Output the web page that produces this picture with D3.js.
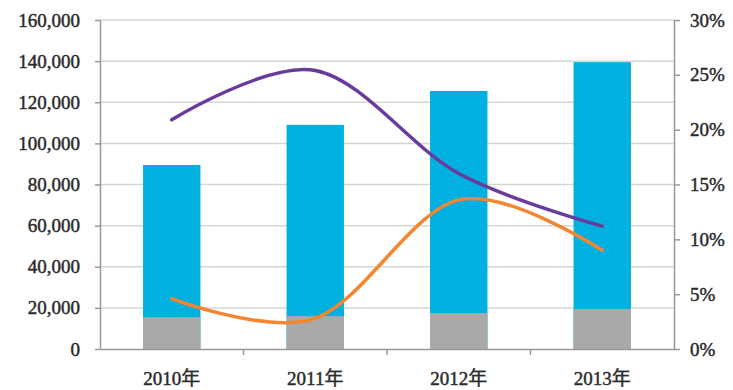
<!DOCTYPE html>
<html>
<head>
<meta charset="utf-8">
<script src="https://cdn.jsdelivr.net/npm/d3@7"></script>
<style>
  html, body { margin: 0; padding: 0; background: #fff; }
  .axis text { font-family: "Liberation Serif", "Times New Roman", "Noto Sans CJK SC", serif; font-size: 19px; fill: #2a2a2a; stroke: #2a2a2a; stroke-width: 0.45px; }
  .axis path, .axis line { stroke: #999; stroke-width: 1.5; }
</style>
</head>
<body>
<div id="chart"></div>
<script>
const categories = ['2010年', '2011年', '2012年', '2013年'];
const totalValues = [89500, 109000, 125500, 139500];
const greyValues = [15500, 16000, 17500, 19500];
const purpleRates = [20.9, 25.4, 16.0, 11.2];
const orangeRates = [4.6, 2.8, 13.6, 9.0];
const leftTicks = [0, 20000, 40000, 60000, 80000, 100000, 120000, 140000, 160000];
const rightTicks = [0, 5, 10, 15, 20, 25, 30];

const W = 733, H = 390;
const m = { top: 20, right: 59, bottom: 41, left: 100 };
const iw = W - m.left - m.right;
const ih = H - m.top - m.bottom;

const svg = d3.select('#chart').append('svg').attr('width', W).attr('height', H);
const g = svg.append('g').attr('transform', `translate(${m.left},${m.top})`);

const x = d3.scaleBand().domain(categories).range([0, iw]).padding(0);
const yL = d3.scaleLinear().domain([0, 160000]).range([ih, 0]);
const yR = d3.scaleLinear().domain([0, 30]).range([ih, 0]);
const barW = x.bandwidth() * 0.4;

// grid
g.append('g').selectAll('line')
  .data(leftTicks.filter(d => d > 0))
  .join('line')
  .attr('x1', 0).attr('x2', iw)
  .attr('y1', d => yL(d)).attr('y2', d => yL(d))
  .attr('stroke', '#d6d6d6').attr('stroke-width', 1.5);

// bars
const bars = g.append('g').selectAll('g').data(categories).join('g')
  .attr('transform', d => `translate(${x(d) + (x.bandwidth() - barW) / 2},0)`);
bars.append('rect')
  .attr('width', barW)
  .attr('y', (d, i) => yL(totalValues[i]))
  .attr('height', (d, i) => yL(0) - yL(totalValues[i]))
  .attr('fill', '#00b0e0');
bars.append('rect')
  .attr('width', barW)
  .attr('y', (d, i) => yL(greyValues[i]))
  .attr('height', (d, i) => yL(0) - yL(greyValues[i]))
  .attr('fill', '#a9a9a9');

// axes
g.append('g').attr('class', 'axis')
  .call(d3.axisLeft(yL).tickValues(leftTicks).tickFormat(d3.format(',')).tickSize(5).tickPadding(15).tickSizeOuter(0));
g.append('g').attr('class', 'axis')
  .attr('transform', `translate(${iw},0)`)
  .call(d3.axisRight(yR).tickValues(rightTicks).tickFormat(d => d + '%').tickSize(6).tickPadding(10).tickSizeOuter(0));

const xAxis = g.append('g').attr('class', 'axis')
  .attr('transform', `translate(0,${ih})`)
  .call(d3.axisBottom(x).tickSize(0).tickPadding(25).tickSizeOuter(0));
xAxis.selectAll('.tick text').attr('dy', '0.6em');
xAxis.append('g').selectAll('line')
  .data(categories.slice(1))
  .join('line')
  .attr('x1', d => x(d)).attr('x2', d => x(d))
  .attr('y1', 0).attr('y2', 6)
  .attr('stroke', '#999').attr('stroke-width', 1.5);

// lines
const line = d3.line()
  .x((d, i) => x(categories[i]) + x.bandwidth() / 2)
  .y(d => yR(d))
  .curve(d3.curveCardinal.tension(0));

g.append('path').datum(purpleRates)
  .attr('d', line).attr('fill', 'none')
  .attr('stroke', '#6a3a9c').attr('stroke-width', 3.5).attr('stroke-linecap', 'round');
g.append('path').datum(orangeRates)
  .attr('d', line).attr('fill', 'none')
  .attr('stroke', '#f5852f').attr('stroke-width', 3.5).attr('stroke-linecap', 'round');
</script>
</body>
</html>
